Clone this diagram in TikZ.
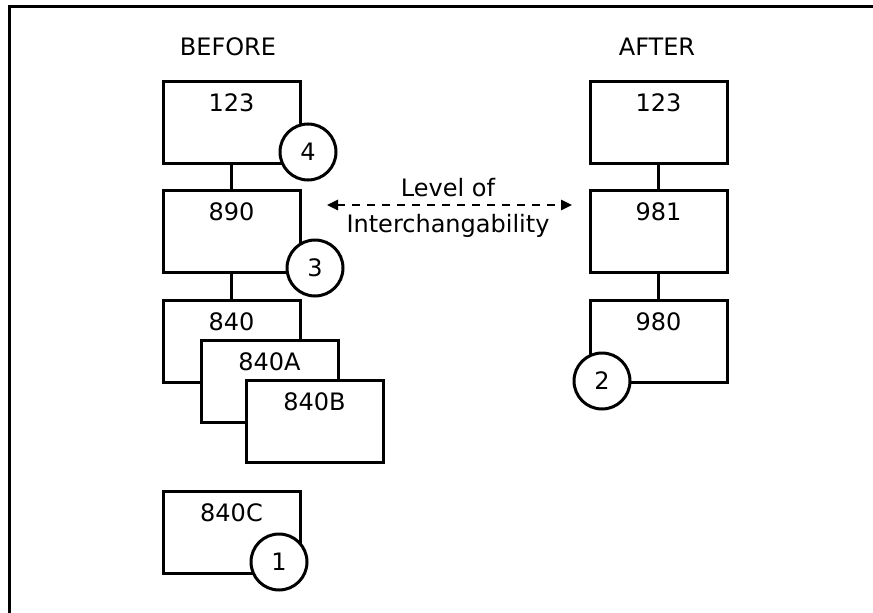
\documentclass[tikz,border=0pt]{standalone}
\usepackage{fontspec}
\setmainfont{DejaVu Sans}
\usetikzlibrary{arrows.meta}
\begin{document}
\begin{tikzpicture}[x=1pt,y=-1pt,
    every node/.style={font=\fontsize{24}{36}\selectfont},
    box/.style={draw, line width=3pt, fill=white, minimum width=137pt, inner sep=0pt, text height=30pt, text depth=52pt},
    ring/.style={circle, draw, line width=3pt, fill=white, minimum size=56pt, inner sep=0pt},
    link/.style={line width=3pt}]
  \useasboundingbox (0,0) rectangle (873,613);
  \draw[line width=3pt] (9,613) -- (9,6) -- (873,6);
  \node (before) at (228,47) {BEFORE};
  \node (after) at (657,47) {AFTER};
  \foreach \nm/\x/\y/\lbl in {b123/231.5/122/123, b890/231.5/231/890, b840/231.5/341/840, b840A/269.5/381/840A, b840B/314.5/421/840B, b840C/231.5/532.5/840C, a123/658.5/122/123, a981/658.5/231/981, a980/658.5/341/980}
    \node[box] (\nm) at (\x,\y) {\lbl};
  \draw[link] (b123) -- (b890);
  \draw[link] (b890) -- (b840);
  \draw[link] (a123) -- (a981);
  \draw[link] (a981) -- (a980);
  \foreach \nm/\x/\y/\lbl in {c4/308/152/4, c3/315/268/3, c1/279/562/1, c2/602/381/2}
    \node[ring] (\nm) at (\x,\y) {\lbl};
  \coordinate (lvlL) at (327,205);
  \coordinate (lvlR) at (572,205);
  \draw[line width=2.5pt, dash pattern=on 8pt off 7pt, {Triangle[length=11pt,width=10pt]}-{Triangle[length=11pt,width=10pt]}] (lvlL) -- (lvlR);
  \node[align=center] (lvl) at (448,208) {Level of\\Interchangability};
\end{tikzpicture}
\end{document}
